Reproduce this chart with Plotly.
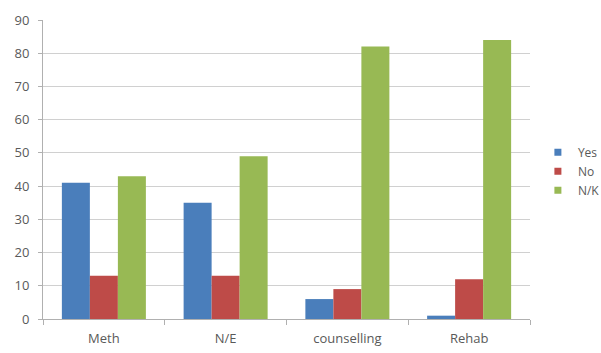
import plotly.graph_objects as go

categories = ["Meth", "N/E", "counselling", "Rehab"]
yes_vals = [41, 35, 6, 1]
no_vals = [13, 13, 9, 12]
nk_vals = [43, 49, 82, 84]
y_ticks = [0, 10, 20, 30, 40, 50, 60, 70, 80, 90]

series = [
    ("Yes", yes_vals, "#4a7ebb"),
    ("No", no_vals, "#be4b48"),
    ("N/K", nk_vals, "#98b954"),
]

TEXT = "#595959"
FONT = "Open Sans, Liberation Sans, sans-serif"

fig = go.Figure()
for name, vals, color in series:
    fig.add_trace(go.Bar(name=name, x=categories, y=vals, marker_color=color,
                         marker_line_width=0, showlegend=False))
# small square legend keys
for name, vals, color in series:
    fig.add_trace(go.Scatter(name=name, x=[None], y=[None], mode="markers",
                             marker=dict(symbol="square", size=7, color=color)))

fig.update_layout(
    width=601, height=353,
    margin=dict(l=43, r=71, t=20, b=34),
    barmode="group", bargap=0.31, bargroupgap=0,
    plot_bgcolor="white", paper_bgcolor="white",
    font=dict(family=FONT, size=13, color=TEXT),
    legend=dict(xref="container", yref="container", x=0.895, y=0.515,
                xanchor="left", yanchor="middle",
                font=dict(size=12, color=TEXT), itemwidth=30,
                tracegroupgap=0, bgcolor="rgba(0,0,0,0)"),
    showlegend=True,
)
fig.update_xaxes(
    showline=True, linecolor="#b0b0b0", linewidth=1,
    ticks="outside", tickson="boundaries", ticklen=5, tickcolor="#b0b0b0",
    showgrid=False, tickfont=dict(size=13, color=TEXT), ticklabelstandoff=7,
    automargin=False,
)
fig.update_yaxes(
    range=[0, 90], tickvals=y_ticks, showline=True, linecolor="#b0b0b0",
    ticks="outside", ticklen=4, tickcolor="#b0b0b0",
    showgrid=True, gridcolor="#d0d0d0", gridwidth=1, zeroline=False,
    tickfont=dict(size=13, color=TEXT), ticklabelstandoff=6, automargin=False,
)
fig.write_html("out.html")
